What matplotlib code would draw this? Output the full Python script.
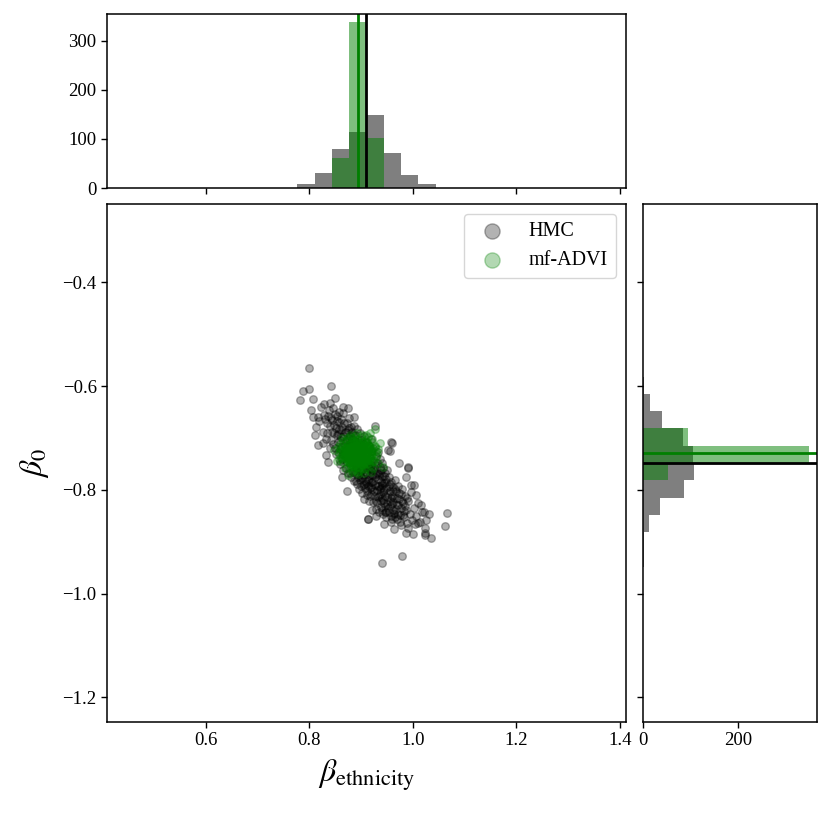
import numpy as np
import matplotlib
from matplotlib.figure import Figure

matplotlib.rcParams["font.family"] = ["Liberation Serif", "DejaVu Serif"]
matplotlib.rcParams["mathtext.fontset"] = "stix"

# --- data ------------------------------------------------------------------
# posterior samples (HMC) of beta_ethnicity / beta_0, estimated from the scatter
hmc_x = [
    # isolated points around the cloud
    0.799, 0.842, 0.788, 0.799, 0.781, 0.808, 0.849, 1.067, 1.062, 0.940,
    0.979, 1.035, 1.024, 0.960, 0.991, 1.003, 0.913, 0.873, 0.864, 0.829,
    0.839, 0.804, 0.807, 0.817, 0.813, 0.810, 0.817, 0.826, 0.833, 0.836,
    0.865, 0.874, 0.887, 0.926, 0.958, 0.955, 1.024, 0.987, 1.000, 0.990,
    0.964, 0.977, 1.005, 1.010, 1.024, 0.914, 0.929, 0.944, 0.921, 1.032,
    1.021, 1.016, 1.006, 0.990, 0.974, 0.987, 0.997, 0.952, 0.958, 0.981,
    0.964, 0.948,
    # body of the cloud
    0.818, 0.822, 0.826, 0.829, 0.832, 0.835, 0.838, 0.839,
    0.841, 0.843, 0.845, 0.846, 0.848, 0.850, 0.851, 0.853, 0.854, 0.856,
    0.857, 0.858, 0.859, 0.860,
    0.861, 0.862, 0.864, 0.865, 0.866, 0.868, 0.869, 0.870, 0.872, 0.873,
    0.874, 0.875, 0.876, 0.877, 0.878, 0.879, 0.879, 0.880,
    0.881, 0.882, 0.883, 0.884, 0.885, 0.886, 0.887, 0.888, 0.889, 0.890,
    0.891, 0.892, 0.893, 0.894, 0.895, 0.896, 0.897, 0.898, 0.899, 0.899,
    0.900, 0.900,
    0.901, 0.902, 0.903, 0.904, 0.905, 0.906, 0.907, 0.908, 0.909, 0.910,
    0.911, 0.912, 0.913, 0.914, 0.915, 0.916, 0.917, 0.917, 0.918, 0.919,
    0.919, 0.920, 0.920, 0.920,
    0.921, 0.922, 0.923, 0.924, 0.925, 0.926, 0.927, 0.928, 0.929, 0.930,
    0.931, 0.932, 0.933, 0.934, 0.935, 0.936, 0.937, 0.937, 0.938, 0.938,
    0.939, 0.940, 0.940, 0.940,
    0.941, 0.942, 0.943, 0.944, 0.945, 0.946, 0.947, 0.948, 0.949, 0.950,
    0.951, 0.952, 0.953, 0.954, 0.955, 0.956, 0.957, 0.958, 0.959, 0.960,
    0.961, 0.962, 0.964, 0.965, 0.966, 0.968, 0.969, 0.971, 0.972, 0.974,
    0.975, 0.977, 0.978, 0.979,
    0.981, 0.983, 0.985, 0.987, 0.989, 0.991, 0.994, 0.996, 0.998,
    1.002, 1.006, 1.010, 1.013, 1.018, 1.026,
    # dense core
    0.831, 0.834, 0.836, 0.840, 0.842, 0.844, 0.847, 0.849, 0.852, 0.853,
    0.855, 0.856, 0.858, 0.859, 0.860,
    0.861, 0.862, 0.863, 0.865, 0.866, 0.867, 0.868, 0.870, 0.871, 0.872,
    0.873, 0.875, 0.876, 0.877, 0.878, 0.880, 0.881, 0.882, 0.884, 0.885,
    0.886, 0.887, 0.888, 0.889, 0.890,
    0.891, 0.892, 0.893, 0.894, 0.895, 0.896, 0.897, 0.898, 0.899, 0.900,
    0.901, 0.902, 0.903, 0.904, 0.905, 0.906, 0.907, 0.908, 0.909, 0.910,
    0.911, 0.912, 0.913, 0.914, 0.915, 0.916, 0.917, 0.918, 0.919, 0.920,
    0.921, 0.922, 0.923, 0.924, 0.925, 0.926, 0.927, 0.928, 0.929, 0.930,
    0.931, 0.932, 0.933, 0.934, 0.935, 0.936, 0.937, 0.938, 0.939, 0.940,
    0.941, 0.942, 0.943, 0.944, 0.945, 0.946, 0.947, 0.948, 0.949, 0.950,
    0.952, 0.953, 0.955, 0.956, 0.958, 0.959, 0.961, 0.962, 0.964, 0.965,
    0.967, 0.969, 0.970, 0.972, 0.974, 0.976, 0.979, 0.982, 0.985, 0.988,
]
hmc_y = [
    -0.566, -0.600, -0.609, -0.606, -0.627, -0.625, -0.622, -0.844, -0.870, -0.940,
    -0.928, -0.893, -0.883, -0.709, -0.757, -0.791, -0.857, -0.802, -0.776, -0.635,
    -0.633, -0.646, -0.659, -0.659, -0.678, -0.694, -0.713, -0.710, -0.733, -0.746,
    -0.640, -0.643, -0.659, -0.676, -0.707, -0.726, -0.887, -0.884, -0.885, -0.874,
    -0.876, -0.868, -0.866, -0.863, -0.873, -0.856, -0.850, -0.866, -0.839, -0.847,
    -0.842, -0.829, -0.810, -0.755, -0.749, -0.775, -0.791, -0.723, -0.861, -0.848,
    -0.845, -0.842,
    -0.668, -0.641, -0.688, -0.655, -0.702, -0.672, -0.646, -0.719,
    -0.661, -0.689, -0.642, -0.712, -0.675, -0.653, -0.731, -0.694, -0.668, -0.708,
    -0.649, -0.683, -0.744, -0.722,
    -0.663, -0.698, -0.679, -0.731, -0.652, -0.715, -0.689, -0.757, -0.671, -0.703,
    -0.738, -0.684, -0.662, -0.725, -0.696, -0.768, -0.711, -0.679,
    -0.742, -0.701, -0.688, -0.729, -0.765, -0.676, -0.714, -0.749, -0.695, -0.782,
    -0.722, -0.683, -0.758, -0.708, -0.737, -0.771, -0.691, -0.745, -0.719, -0.793,
    -0.704, -0.762,
    -0.733, -0.778, -0.712, -0.751, -0.697, -0.789, -0.741, -0.723, -0.766, -0.708,
    -0.802, -0.747, -0.729, -0.781, -0.715, -0.758, -0.738, -0.812, -0.772, -0.701,
    -0.753, -0.794, -0.726, -0.764,
    -0.744, -0.785, -0.761, -0.719, -0.803, -0.752, -0.776, -0.735, -0.821, -0.768,
    -0.748, -0.792, -0.727, -0.811, -0.771, -0.756, -0.799, -0.741, -0.833, -0.782,
    -0.762, -0.815, -0.749, -0.791,
    -0.773, -0.804, -0.757, -0.826, -0.786, -0.768, -0.842, -0.797, -0.779, -0.813,
    -0.761, -0.835, -0.792, -0.776, -0.821, -0.803, -0.851, -0.784, -0.828, -0.811,
    -0.795, -0.838, -0.816, -0.781, -0.853, -0.803, -0.829, -0.792, -0.846, -0.818,
    -0.861, -0.807, -0.834, -0.798,
    -0.826, -0.852, -0.811, -0.839, -0.864, -0.822, -0.847, -0.805, -0.858,
    -0.834, -0.851, -0.826, -0.862, -0.843, -0.858,
    -0.663, -0.691, -0.657, -0.677, -0.703, -0.665, -0.690, -0.719, -0.681, -0.657,
    -0.727, -0.692, -0.669, -0.703, -0.751,
    -0.684, -0.717, -0.741, -0.697, -0.762, -0.672, -0.731, -0.706, -0.688, -0.747,
    -0.721, -0.768, -0.702, -0.681, -0.752, -0.733, -0.775, -0.714, -0.694, -0.748,
    -0.782, -0.731, -0.706, -0.767, -0.742,
    -0.757, -0.789, -0.716, -0.776, -0.752, -0.799, -0.763, -0.781, -0.737, -0.775,
    -0.806, -0.761, -0.791, -0.772, -0.744, -0.818, -0.783, -0.797, -0.756, -0.787,
    -0.769, -0.809, -0.793, -0.753, -0.822, -0.779, -0.796, -0.759, -0.784, -0.807,
    -0.772, -0.798, -0.824, -0.783, -0.757, -0.812, -0.791, -0.836, -0.769, -0.801,
    -0.826, -0.779, -0.814, -0.792, -0.843, -0.808, -0.767, -0.822, -0.797, -0.838,
    -0.786, -0.819, -0.846, -0.801, -0.774, -0.831, -0.812, -0.784, -0.853, -0.827,
    -0.806, -0.842, -0.789, -0.831, -0.816, -0.857, -0.803, -0.824, -0.846, -0.798,
    -0.836, -0.815, -0.857, -0.829, -0.806, -0.848, -0.822, -0.841, -0.831, -0.815,
]

# mean-field ADVI samples, estimated from the green blob
advi_x = [
    0.894, 0.889, 0.899, 0.891, 0.897, 0.885, 0.903, 0.893, 0.895, 0.887,
    0.901, 0.882, 0.906, 0.890, 0.898, 0.884, 0.904, 0.892, 0.896, 0.888,
    0.900, 0.880, 0.908, 0.894, 0.891,
    0.875, 0.878, 0.912, 0.914, 0.886, 0.903, 0.885, 0.902, 0.871, 0.917,
    0.880, 0.909, 0.893, 0.896, 0.873, 0.915, 0.879, 0.911, 0.868, 0.920,
    0.883, 0.905, 0.876, 0.913, 0.889, 0.899, 0.870, 0.918, 0.881, 0.907,
    0.862, 0.865, 0.926, 0.924, 0.878, 0.909, 0.882, 0.906, 0.858, 0.930,
    0.893, 0.895, 0.866, 0.924, 0.869, 0.921, 0.926, 0.943, 0.853, 0.872,
    0.936, 0.860, 0.917, 0.875, 0.848, 0.932,
    0.892, 0.897, 0.887, 0.901, 0.890, 0.899, 0.884, 0.905, 0.895, 0.886,
    0.902, 0.893, 0.880, 0.910, 0.877, 0.913, 0.888, 0.900, 0.874, 0.916,
    0.884, 0.893, 0.902,
    0.879, 0.887, 0.896, 0.905, 0.912,
    0.874, 0.882, 0.890, 0.899, 0.907, 0.915,
    0.871, 0.878, 0.885, 0.893, 0.901, 0.909, 0.917,
    0.868, 0.876, 0.883, 0.889, 0.897, 0.904, 0.911, 0.919,
    0.866, 0.873, 0.880, 0.887, 0.894, 0.900, 0.907, 0.914, 0.921,
    0.865, 0.872, 0.879, 0.886, 0.892, 0.898, 0.905, 0.912, 0.920,
    0.867, 0.874, 0.881, 0.888, 0.895, 0.902, 0.909, 0.916, 0.922,
    0.869, 0.877, 0.884, 0.891, 0.897, 0.904, 0.911, 0.918,
    0.872, 0.880, 0.887, 0.894, 0.901, 0.908, 0.915,
    0.876, 0.883, 0.890, 0.898, 0.905, 0.912,
    0.880, 0.888, 0.896, 0.903, 0.909,
    0.885, 0.893, 0.901,
    0.860, 0.861, 0.863, 0.866, 0.870, 0.874, 0.878, 0.884, 0.889, 0.896,
    0.901, 0.908, 0.913, 0.918, 0.922, 0.925, 0.927, 0.928, 0.929, 0.857,
    0.864, 0.920, 0.933, 0.855, 0.892,
]
advi_y = [
    -0.729, -0.724, -0.733, -0.737, -0.721, -0.731, -0.727, -0.716, -0.742, -0.719,
    -0.739, -0.738, -0.720, -0.745, -0.713, -0.724, -0.734, -0.731, -0.726, -0.733,
    -0.724, -0.728, -0.730, -0.719, -0.741,
    -0.722, -0.741, -0.717, -0.738, -0.706, -0.708, -0.752, -0.750, -0.733, -0.726,
    -0.712, -0.745, -0.702, -0.756, -0.715, -0.748, -0.749, -0.707, -0.727, -0.732,
    -0.700, -0.757, -0.746, -0.713, -0.760, -0.699, -0.719, -0.742, -0.755, -0.703,
    -0.721, -0.740, -0.718, -0.744, -0.694, -0.694, -0.765, -0.767, -0.731, -0.731,
    -0.690, -0.769, -0.705, -0.757, -0.757, -0.702, -0.683, -0.756, -0.745, -0.700,
    -0.709, -0.712, -0.690, -0.772, -0.724, -0.748,
    -0.727, -0.735, -0.729, -0.718, -0.722, -0.744, -0.737, -0.726, -0.711, -0.715,
    -0.731, -0.748, -0.720, -0.736, -0.731, -0.724, -0.708, -0.752, -0.738, -0.720,
    -0.706, -0.704, -0.707,
    -0.711, -0.709, -0.710, -0.712, -0.709,
    -0.714, -0.716, -0.713, -0.715, -0.714, -0.716,
    -0.719, -0.717, -0.718, -0.720, -0.717, -0.719, -0.718,
    -0.722, -0.723, -0.721, -0.724, -0.722, -0.721, -0.723, -0.722,
    -0.726, -0.727, -0.725, -0.726, -0.728, -0.725, -0.727, -0.726, -0.725,
    -0.731, -0.729, -0.730, -0.732, -0.729, -0.731, -0.730, -0.729, -0.731,
    -0.734, -0.735, -0.733, -0.734, -0.736, -0.733, -0.735, -0.734, -0.733,
    -0.738, -0.739, -0.737, -0.738, -0.740, -0.737, -0.739, -0.738,
    -0.742, -0.743, -0.741, -0.742, -0.744, -0.741, -0.743,
    -0.746, -0.747, -0.745, -0.746, -0.748, -0.745,
    -0.750, -0.751, -0.749, -0.752, -0.750,
    -0.754, -0.755, -0.753,
    -0.725, -0.737, -0.715, -0.747, -0.706, -0.755, -0.699, -0.761, -0.696, -0.763,
    -0.695, -0.760, -0.699, -0.753, -0.707, -0.745, -0.716, -0.736, -0.726, -0.741,
    -0.700, -0.765, -0.721, -0.718, -0.766,
]

# marginal histogram counts, 30 bins spanning each axis
hmc_x_counts = [0] * 11 + [8, 31, 80, 114, 149, 72, 27, 8, 1] + [0] * 10
advi_x_counts = [0] * 13 + [61, 337, 101] + [0] * 14
hmc_y_counts = [0] * 9 + [1, 3, 12, 35, 86, 107, 105, 85, 39, 14, 2] + [0] * 10
advi_y_counts = [0] * 14 + [53, 351, 95] + [0] * 13

# posterior means
hmc_mean = (0.910, -0.7485)
advi_mean = (0.895, -0.729)

labels = ["HMC", "mf-ADVI"]

# --- figure ------------------------------------------------------------------
XLIM = (0.409, 1.412)
YLIM = (-1.2474, -0.249)
HMC_COLOR = "k"
ADVI_COLOR = "green"

fig = Figure(figsize=(8.31, 8.14), dpi=100)
ax = fig.add_axes([0.1288, 0.1130, 0.6245, 0.6364])
ax_top = fig.add_axes([0.1288, 0.7690, 0.6245, 0.2138])
ax_right = fig.add_axes([0.7738, 0.1130, 0.2094, 0.6364])

ax.scatter(hmc_x, hmc_y, s=30, color=HMC_COLOR, alpha=0.3, label=labels[0])
ax.scatter(advi_x, advi_y, s=30, color=ADVI_COLOR, alpha=0.3, label=labels[1])
ax.set_xlim(*XLIM)
ax.set_ylim(*YLIM)
ax.set_xticks([0.6, 0.8, 1.0, 1.2, 1.4])
ax.set_yticks([-1.2, -1.0, -0.8, -0.6, -0.4])
ax.set_xlabel(r"$\beta_{\mathrm{ethnicity}}$", fontsize=23, labelpad=6)
ax.set_ylabel(r"$\beta_0$", fontsize=23, labelpad=8)
ax.legend(loc="upper right", fontsize=14.5, markerscale=2)

x_edges = np.linspace(*XLIM, 31)
y_edges = np.linspace(*YLIM, 31)

ax_top.hist(x_edges[:-1], bins=x_edges, weights=hmc_x_counts, color=HMC_COLOR, alpha=0.5)
ax_top.hist(x_edges[:-1], bins=x_edges, weights=advi_x_counts, color=ADVI_COLOR, alpha=0.5)
ax_top.axvline(hmc_mean[0], color=HMC_COLOR, linewidth=2)
ax_top.axvline(advi_mean[0], color=ADVI_COLOR, linewidth=2)
ax_top.set_xlim(*XLIM)
ax_top.set_ylim(0, 354)
ax_top.set_xticks(ax.get_xticks())
ax_top.set_yticks([0, 100, 200, 300])
ax_top.tick_params(labelbottom=False)

ax_right.hist(y_edges[:-1], bins=y_edges, weights=hmc_y_counts, color=HMC_COLOR,
              alpha=0.5, orientation="horizontal")
ax_right.hist(y_edges[:-1], bins=y_edges, weights=advi_y_counts, color=ADVI_COLOR,
              alpha=0.5, orientation="horizontal")
ax_right.axhline(hmc_mean[1], color=HMC_COLOR, linewidth=2)
ax_right.axhline(advi_mean[1], color=ADVI_COLOR, linewidth=2)
ax_right.set_ylim(*YLIM)
ax_right.set_xlim(0, 367)
ax_right.set_yticks(ax.get_yticks())
ax_right.set_xticks([0, 200])
ax_right.tick_params(labelleft=False)

for a in (ax, ax_top, ax_right):
    a.tick_params(labelsize=13.5, width=1.0, length=4)
    for spine in a.spines.values():
        spine.set_linewidth(1.1)

fig.savefig("out.png")
